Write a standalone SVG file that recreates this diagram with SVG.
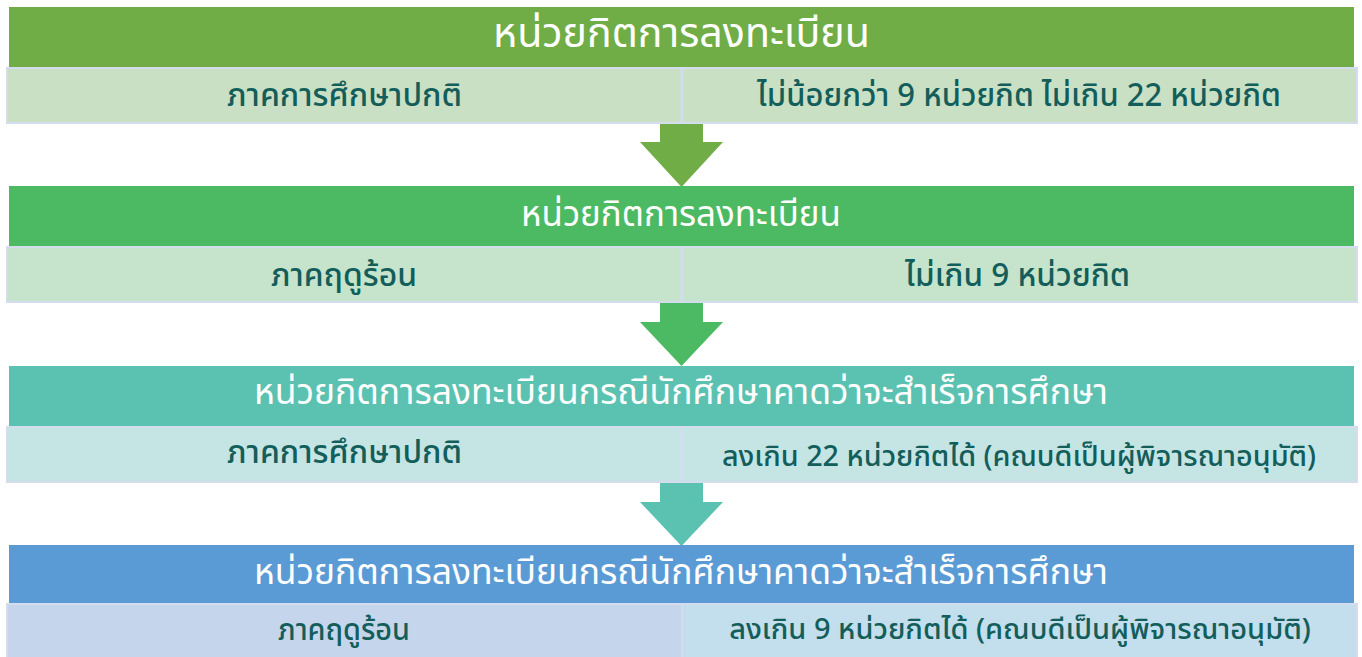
<svg xmlns="http://www.w3.org/2000/svg" width="1362" height="657" viewBox="0 0 1362 657">
<style>
.hd{font-family:"Noto Sans Thai","Noto Sans","DejaVu Sans",sans-serif;fill:#ffffff;text-anchor:middle}
.cl{font-family:"Noto Sans Thai","Noto Sans","DejaVu Sans",sans-serif;fill:#135e5a;text-anchor:middle;font-weight:500}
.row{stroke:#d3dded;stroke-width:2}
.div{stroke:#d3dded;stroke-width:3}
</style>
<rect width="1362" height="657" fill="#ffffff"/>
<g id="connectors">
<polygon points="660,123 703,123 703,142 723,142 681.5,187 640,142 660,142" fill="#70ad47"/>
<polygon points="660,302 703,302 703,322 723,322 681.5,366 640,322 660,322" fill="#4cb963"/>
<polygon points="660,483 703,483 703,502 723,502 681.5,546 640,502 660,502" fill="#5bc2b2"/>
</g>
<g id="block1">
<rect x="9" y="7" width="1345" height="60" fill="#70ad47"/>
<text class="hd" x="681.5" y="47" font-size="41" textLength="377" lengthAdjust="spacingAndGlyphs">หน่วยกิตการลงทะเบียน</text>
<rect class="row" x="7" y="68" width="1350" height="55" fill="#c9e0c5"/>
<line class="div" x1="682" y1="68" x2="682" y2="123"/>
<text class="cl" x="344.5" y="106" font-size="32" textLength="235" lengthAdjust="spacingAndGlyphs">ภาคการศึกษาปกติ</text>
<text class="cl" x="1019" y="106" font-size="32" textLength="524" lengthAdjust="spacingAndGlyphs">ไม่น้อยกว่า 9 หน่วยกิต ไม่เกิน 22 หน่วยกิต</text>
</g>
<g id="block2">
<rect x="9" y="186" width="1345" height="60" fill="#4cb963"/>
<text class="hd" x="681" y="226" font-size="35" textLength="320" lengthAdjust="spacingAndGlyphs">หน่วยกิตการลงทะเบียน</text>
<rect class="row" x="7" y="247" width="1350" height="55" fill="#c6e4cb"/>
<line class="div" x1="682" y1="247" x2="682" y2="302"/>
<text class="cl" x="344" y="286" font-size="32" textLength="146" lengthAdjust="spacingAndGlyphs">ภาคฤดูร้อน</text>
<text class="cl" x="1017.5" y="286" font-size="32" textLength="225" lengthAdjust="spacingAndGlyphs">ไม่เกิน 9 หน่วยกิต</text>
</g>
<g id="block3">
<rect x="9" y="366" width="1345" height="60" fill="#5bc2b2"/>
<text class="hd" x="681" y="404" font-size="35" textLength="854" lengthAdjust="spacingAndGlyphs">หน่วยกิตการลงทะเบียนกรณีนักศึกษาคาดว่าจะสำเร็จการศึกษา</text>
<rect class="row" x="7" y="427" width="1350" height="55" fill="#c5e5e5"/>
<line class="div" x1="682" y1="427" x2="682" y2="482"/>
<text class="cl" x="344.5" y="463" font-size="32" textLength="235" lengthAdjust="spacingAndGlyphs">ภาคการศึกษาปกติ</text>
<text class="cl" x="1019" y="466" font-size="28.8">ลงเกิน 22 หน่วยกิตได้ (คณบดีเป็นผู้พิจารณาอนุมัติ)</text>
</g>
<g id="block4">
<rect x="9" y="545" width="1345" height="58" fill="#5b9bd5"/>
<text class="hd" x="681" y="584" font-size="35" textLength="854" lengthAdjust="spacingAndGlyphs">หน่วยกิตการลงทะเบียนกรณีนักศึกษาคาดว่าจะสำเร็จการศึกษา</text>
<rect class="row" x="7" y="604" width="675" height="56" fill="#c5d6ec"/>
<rect class="row" x="682" y="604" width="675" height="56" fill="#c3deec"/>
<text class="cl" x="344" y="640" font-size="30" textLength="132" lengthAdjust="spacingAndGlyphs">ภาคฤดูร้อน</text>
<text class="cl" x="1020" y="639" font-size="29">ลงเกิน 9 หน่วยกิตได้ (คณบดีเป็นผู้พิจารณาอนุมัติ)</text>
</g>
</svg>
